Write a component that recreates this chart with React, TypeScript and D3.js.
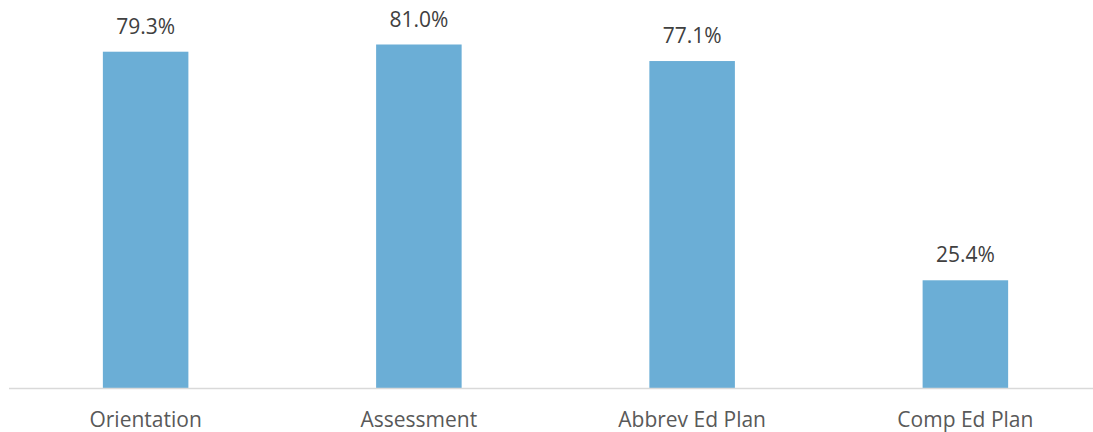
import React from "react";
import * as d3 from "d3";

const categories = ["Orientation", "Assessment", "Abbrev Ed Plan", "Comp Ed Plan"];
const values = [79.3, 81.0, 77.1, 25.4];
const valueLabels = ["79.3%", "81.0%", "77.1%", "25.4%"];

const W = 1093;
const H = 432;
const baseY = 388;

export default function App() {
  const x = d3
    .scaleBand<string>()
    .domain(categories)
    .range([9, 1102])
    .paddingInner(0.687)
    .paddingOuter(0.3435);
  const y = d3.scaleLinear().domain([0, 81.0]).range([baseY, 44.5]);
  const font = "'Open Sans', sans-serif";
  return (
    <svg
      width={W}
      height={H}
      style={{ position: "absolute", left: 0, top: 0, background: "#fff" }}
    >
      {categories.map((c, i) => (
        <rect
          key={c}
          x={x(c)}
          y={y(values[i])}
          width={x.bandwidth()}
          height={baseY - y(values[i])}
          fill="#6BAED6"
        />
      ))}
      <line x1={9} x2={W} y1={388.5} y2={388.5} stroke="#D9D9D9" strokeWidth={1.5} />
      {categories.map((c, i) => (
        <text
          key={"v" + c}
          x={(x(c) as number) + x.bandwidth() / 2}
          y={y(values[i]) - 18}
          textAnchor="middle"
          fontFamily={font}
          fontSize={21}
          fill="#404040"
        >
          {valueLabels[i]}
        </text>
      ))}
      {categories.map((c) => (
        <text
          key={"c" + c}
          x={(x(c) as number) + x.bandwidth() / 2}
          y={426.5}
          textAnchor="middle"
          fontFamily={font}
          fontSize={21}
          fill="#595959"
        >
          {c}
        </text>
      ))}
    </svg>
  );
}
